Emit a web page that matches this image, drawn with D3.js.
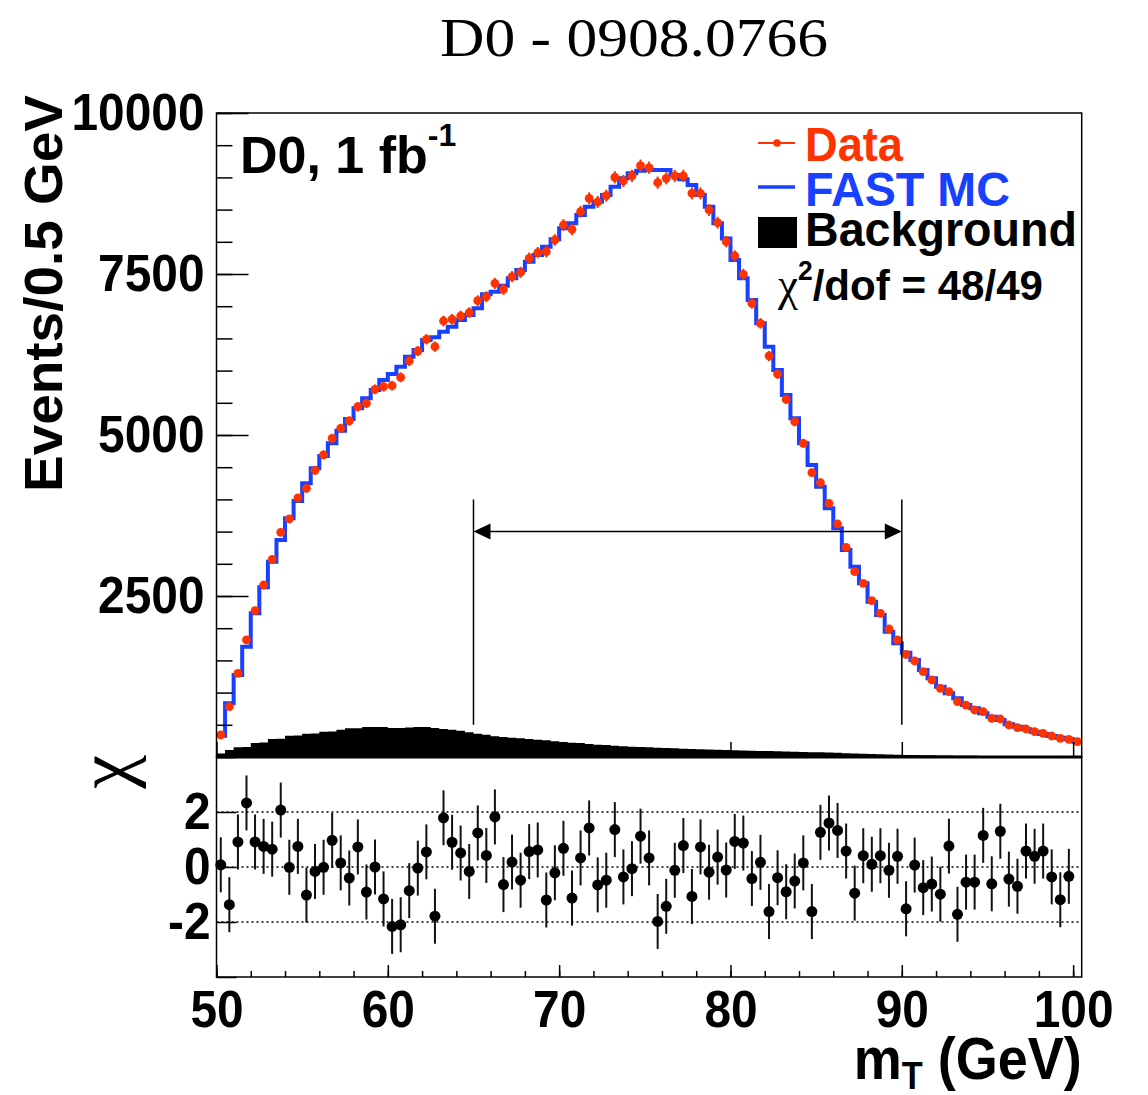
<!DOCTYPE html>
<html>
<head>
<meta charset="utf-8">
<script src="https://cdn.jsdelivr.net/npm/d3@7"></script>
<style>
  body { margin: 0; background: #fff; }
  text { font-family: "Liberation Sans", Arial, sans-serif; font-weight: bold; fill: #000; }
</style>
</head>
<body>
<div id="chart"></div>
<script>
// m_T bins, 0.5 GeV wide, lower edges 50 .. 100
const binLow = d3.range(50, 100.5, 0.5);

// Data (red points)
const dataCounts = [
  342, 781, 1299, 1817, 2272, 2671, 3070, 3489, 3696, 4022,
  4172, 4452, 4690, 4948, 5104, 5218, 5440, 5492, 5709, 5750,
  5766, 5896, 6149, 6304, 6486, 6372, 6770, 6797, 6848, 6900,
  7086, 7148, 7355, 7262, 7459, 7526, 7744, 7831, 7847, 8028,
  8261, 8194, 8468, 8675, 8618, 8716, 9002, 8944, 9022, 9182,
  9151, 8918, 8986, 9022, 9022, 8753, 8753, 8494, 8297, 8002,
  7780, 7495, 7045, 6734, 6227, 5947, 5554, 5207, 4871, 4415,
  4260, 3939, 3618, 3256, 2878, 2697, 2428, 2231, 1988, 1817,
  1592, 1491, 1325, 1196, 1066, 1014, 859, 807, 730, 704,
  600, 590, 497, 456, 435, 393, 368, 326, 290, 275,
  238
];

// FAST MC (blue histogram)
const mcCounts = [
  330, 834, 1273, 1713, 2231, 2635, 3033, 3370, 3706, 3975,
  4250, 4483, 4674, 4871, 5067, 5249, 5415, 5570, 5699, 5854,
  5948, 6061, 6216, 6320, 6475, 6517, 6605, 6682, 6786, 6864,
  6970, 7185, 7226, 7319, 7433, 7562, 7691, 7795, 7924, 8039,
  8209, 8287, 8416, 8545, 8623, 8727, 8856, 8986, 9063, 9104,
  9115, 9115, 9115, 9037, 8970, 8882, 8727, 8545, 8287, 8050,
  7717, 7433, 7096, 6734, 6371, 6009, 5621, 5259, 4871, 4534,
  4197, 3862, 3551, 3214, 2955, 2697, 2412, 2205, 1946, 1766,
  1620, 1506, 1351, 1222, 1092, 989, 911, 807, 756, 678,
  626, 575, 507, 471, 430, 393, 357, 326, 300, 275,
  238
];

// Background (black filled histogram)
const bkgCounts = [
  55, 110, 150, 155, 217, 225, 280, 285, 330, 335,
  360, 365, 393, 395, 424, 445, 445, 466, 466, 466,
  450, 450, 460, 466, 466, 450, 435, 424, 409, 383,
  362, 347, 321, 311, 300, 290, 280, 269, 259, 243,
  233, 223, 217, 202, 191, 186, 176, 166, 160, 155,
  150, 145, 140, 135, 130, 126, 122, 118, 114, 110,
  106, 102, 98, 95, 92, 88, 85, 82, 78, 75,
  72, 68, 65, 60, 55, 50, 46, 42, 38, 35,
  32, 30, 28, 26, 24, 22, 20, 19, 18, 17,
  16, 15, 15, 14, 13, 13, 12, 12, 11, 11,
  10
];

// chi per bin, 50.25 .. 99.75 GeV
const chiValues = [
  0.08, -1.37, 0.91, 2.33, 0.91, 0.75, 0.65, 2.07, -0.01, 0.75,
  -1.02, -0.16, -0.01, 0.97, 0.15, -0.40, 0.73, -0.91, 0.00, -1.16,
  -2.16, -2.10, -0.86, -0.04, 0.55, -1.79, 1.79, 0.90, 0.51, -0.16,
  1.24, 0.42, 1.82, -0.64, 0.18, -0.48, 0.56, 0.62, -1.20, -0.21,
  0.68, -1.13, 0.33, 1.42, -0.65, -0.48, 1.36, -0.36, -0.06, 1.12,
  0.33, -1.98, -1.43, -0.12, 0.78, -1.07, 0.73, -0.19, 0.36, -0.11,
  0.93, 0.87, -0.42, 0.17, -1.62, -0.39, -0.90, -0.51, 0.15, -1.62,
  1.26, 1.60, 1.33, 0.58, -0.95, 0.41, 0.10, 0.41, -0.12, 0.39,
  -1.52, 0.07, -0.75, -0.62, -0.99, 0.76, -1.72, -0.55, -0.55, 1.15,
  -0.61, 1.30, -0.44, -0.70, 0.58, 0.39, 0.58, -0.36, -1.19, -0.34
];

const yTicks = [2500, 5000, 7500, 10000];
const xTicks = [50, 60, 70, 80, 90, 100];
const chiTicks = [-2, 0, 2];
const fitRange = [65, 90];

const red = "#ff3300", blue = "#1840ff";
const W = 1148, H = 1095;
const L = 216.5, R = 1081.7, T = 113, MID = 757, B = 977;

const svg = d3.select("#chart").append("svg")
  .attr("width", W).attr("height", H)
  .attr("viewBox", `0 0 ${W} ${H}`);

const x = d3.scaleLinear().domain([50, 100.5]).range([L, R]);
const y = d3.scaleLinear().domain([0, 10000]).range([MID, T]);
const yc = d3.scaleLinear().domain([-4, 4]).range([B, MID]);

// squeeze text horizontally to the narrower look of the original
function squeeze(sel, k) {
  sel.each(function() {
    const len = this.getComputedTextLength();
    d3.select(this).attr("textLength", len * k).attr("lengthAdjust", "spacingAndGlyphs");
  });
}

const hist = binLow.map((b, i) => ({ lo: b, mc: mcCounts[i], bkg: bkgCounts[i], data: dataCounts[i] }));
const stepPts = hist.concat([{ lo: 100.5, mc: mcCounts[100], bkg: bkgCounts[100] }]);

// background
svg.append("path")
  .datum(stepPts)
  .attr("fill", "#000")
  .attr("d", d3.area().curve(d3.curveStepAfter)
    .x(d => x(d.lo)).y0(y(0)).y1(d => y(d.bkg)));

// FAST MC
svg.append("path")
  .datum(stepPts)
  .attr("fill", "none")
  .attr("stroke", blue)
  .attr("stroke-width", 4)
  .attr("d", d3.line().curve(d3.curveStepAfter).x(d => x(d.lo)).y(d => y(d.mc)));

// data points with sqrt(N) errors
const pts = svg.append("g");
pts.selectAll("line").data(hist).join("line")
  .attr("x1", d => x(d.lo + 0.25)).attr("x2", d => x(d.lo + 0.25))
  .attr("y1", d => y(d.data + Math.sqrt(d.data))).attr("y2", d => y(d.data - Math.sqrt(d.data)))
  .attr("stroke", red).attr("stroke-width", 2);
pts.selectAll("circle").data(hist).join("circle")
  .attr("cx", d => x(d.lo + 0.25)).attr("cy", d => y(d.data))
  .attr("r", 4.4).attr("fill", red);

// fit range arrow
const arr = svg.append("g").attr("stroke", "#000").attr("stroke-width", 1.5);
fitRange.forEach(v => {
  arr.append("line").attr("x1", x(v)).attr("x2", x(v)).attr("y1", y(4000)).attr("y2", y(500));
});
arr.append("line").attr("x1", x(fitRange[0]) + 12).attr("x2", x(fitRange[1]) - 12)
  .attr("y1", y(3500)).attr("y2", y(3500));
const ay = y(3500);
svg.append("path").attr("fill", "#000")
  .attr("d", `M${x(fitRange[0])},${ay} l17,-8 l0,16 Z M${x(fitRange[1])},${ay} l-17,-8 l0,16 Z`);

// upper axes
const upY = svg.append("g").attr("transform", `translate(${L},0)`);
upY.call(d3.axisLeft(y).tickValues(d3.range(0, 10001, 500)).tickSize(-16).tickFormat(""));
upY.call(g => g.select(".domain").remove());
const upYMaj = svg.append("g").attr("transform", `translate(${L},0)`)
  .call(d3.axisLeft(y).tickValues(yTicks).tickSize(-32).tickPadding(12).tickFormat(d => String(d)));
upYMaj.select(".domain").remove();

const upX = svg.append("g").attr("transform", `translate(0,${MID})`);
upX.call(d3.axisBottom(x).tickValues(d3.range(50, 101, 2)).tickSize(-7).tickFormat(""));
upX.call(d3.axisBottom(x).tickValues(xTicks).tickSize(-15).tickFormat(""));
upX.selectAll(".domain").remove();

// chi panel
const low = svg.append("g");
low.selectAll("line.grid").data(chiTicks).join("line")
  .attr("class", "grid")
  .attr("x1", L).attr("x2", R).attr("y1", d => yc(d)).attr("y2", d => yc(d))
  .attr("stroke", "#000").attr("stroke-width", 1.6).attr("stroke-dasharray", "2,3");

const chiPts = chiValues.map((c, i) => ({ m: binLow[i] + 0.25, c }));
low.selectAll("line.err").data(chiPts).join("line")
  .attr("class", "err")
  .attr("x1", d => x(d.m)).attr("x2", d => x(d.m))
  .attr("y1", d => yc(d.c + 1)).attr("y2", d => yc(d.c - 1))
  .attr("stroke", "#111").attr("stroke-width", 2);
low.selectAll("circle").data(chiPts).join("circle")
  .attr("cx", d => x(d.m)).attr("cy", d => yc(d.c)).attr("r", 5.5).attr("fill", "#000");

const lowY = svg.append("g").attr("transform", `translate(${L},0)`);
lowY.call(d3.axisLeft(yc).tickValues(d3.range(-4, 4.01, 0.5)).tickSize(-10).tickFormat(""));
lowY.call(d3.axisLeft(yc).tickValues([-4, -2, 0, 2, 4]).tickSize(-20).tickFormat(""));
lowY.selectAll(".domain").remove();
const lowYLab = svg.append("g").attr("transform", `translate(${L},0)`)
  .call(d3.axisLeft(yc).tickValues(chiTicks).tickSize(0).tickPadding(6).tickFormat(d => String(d)));
lowYLab.select(".domain").remove();

const lowX = svg.append("g").attr("transform", `translate(0,${B})`);
lowX.call(d3.axisBottom(x).tickValues(d3.range(50, 101, 2)).tickSize(-6).tickFormat(""));
lowX.selectAll(".domain").remove();
const lowXMaj = svg.append("g").attr("transform", `translate(0,${B})`)
  .call(d3.axisBottom(x).tickValues(xTicks).tickSize(-12).tickPadding(13).tickFormat(d => String(d)));
lowXMaj.select(".domain").remove();

svg.selectAll(".tick line").attr("stroke", "#000").attr("stroke-width", 1.5);
svg.selectAll(".tick text")
  .style("font-family", '"Liberation Sans", Arial, sans-serif')
  .style("font-weight", "bold").attr("fill", "#000").attr("font-size", 52)
  .call(squeeze, 0.92);

// frames
svg.append("rect").attr("x", L).attr("y", T).attr("width", R - L).attr("height", MID - T)
  .attr("fill", "none").attr("stroke", "#000").attr("stroke-width", 1.5);
svg.append("rect").attr("x", L).attr("y", MID).attr("width", R - L).attr("height", B - MID)
  .attr("fill", "none").attr("stroke", "#000").attr("stroke-width", 1.5);
svg.append("line").attr("x1", L).attr("x2", R).attr("y1", MID).attr("y2", MID)
  .attr("stroke", "#000").attr("stroke-width", 3);

// titles
svg.append("text").attr("x", 634).attr("y", 56).attr("text-anchor", "middle")
  .style("font-family", '"Liberation Serif", "Times New Roman", serif').style("font-weight", "normal")
  .attr("font-size", 54).attr("textLength", 388).attr("lengthAdjust", "spacingAndGlyphs")
  .text("D0 - 0908.0766");

svg.append("text").attr("transform", "translate(62,95) rotate(-90)").attr("text-anchor", "end")
  .attr("font-size", 54).attr("textLength", 397).attr("lengthAdjust", "spacingAndGlyphs")
  .text("Events/0.5 GeV");

svg.append("text").attr("transform", `translate(130,${MID - 2}) rotate(-90)`).attr("text-anchor", "end")
  .style("font-family", '"Liberation Serif", "Times New Roman", serif').style("font-weight", "normal")
  .attr("font-size", 76).text("χ");

const xt = svg.append("text").attr("x", R).attr("y", 1079).attr("text-anchor", "end").attr("font-size", 60);
xt.append("tspan").text("m");
xt.append("tspan").attr("font-size", 38).attr("dy", 10).text("T");
xt.append("tspan").attr("dy", -10).text(" (GeV)");
xt.call(squeeze, 0.9);

const lum = svg.append("text").attr("x", 240).attr("y", 173).attr("font-size", 52);
lum.append("tspan").text("D0, 1 fb");
lum.append("tspan").attr("font-size", 32).attr("dy", -27).text("-1");

// legend
const lg = svg.append("g");
lg.append("line").attr("x1", 758).attr("x2", 795).attr("y1", 143).attr("y2", 143)
  .attr("stroke", red).attr("stroke-width", 2);
lg.append("circle").attr("cx", 777).attr("cy", 143).attr("r", 3.8).attr("fill", red);
lg.append("line").attr("x1", 758).attr("x2", 795).attr("y1", 187).attr("y2", 187)
  .attr("stroke", blue).attr("stroke-width", 3.5);
lg.append("rect").attr("x", 758).attr("y", 217).attr("width", 39).attr("height", 31).attr("fill", "#000");

const legendItems = [
  { label: "Data", color: red, y: 161, w: 98 },
  { label: "FAST MC", color: blue, y: 206, w: 205 },
  { label: "Background", color: "#000", y: 246, w: 272 }
];
lg.selectAll("text.lab").data(legendItems).join("text")
  .attr("class", "lab")
  .attr("x", 805).attr("y", d => d.y).attr("font-size", 49)
  .style("fill", d => d.color)
  .attr("textLength", d => d.w).attr("lengthAdjust", "spacingAndGlyphs")
  .text(d => d.label);

const chi2 = lg.append("text").attr("x", 778).attr("y", 300).attr("font-size", 43);
chi2.append("tspan").style("font-family", '"Liberation Serif", "Times New Roman", serif')
  .style("font-weight", "normal").attr("font-size", 46).text("χ");
chi2.append("tspan").attr("font-size", 27).attr("dy", -20).text("2");
chi2.append("tspan").attr("dy", 20).text("/dof = 48/49");
chi2.attr("textLength", 265).attr("lengthAdjust", "spacingAndGlyphs");
</script>
</body>
</html>
